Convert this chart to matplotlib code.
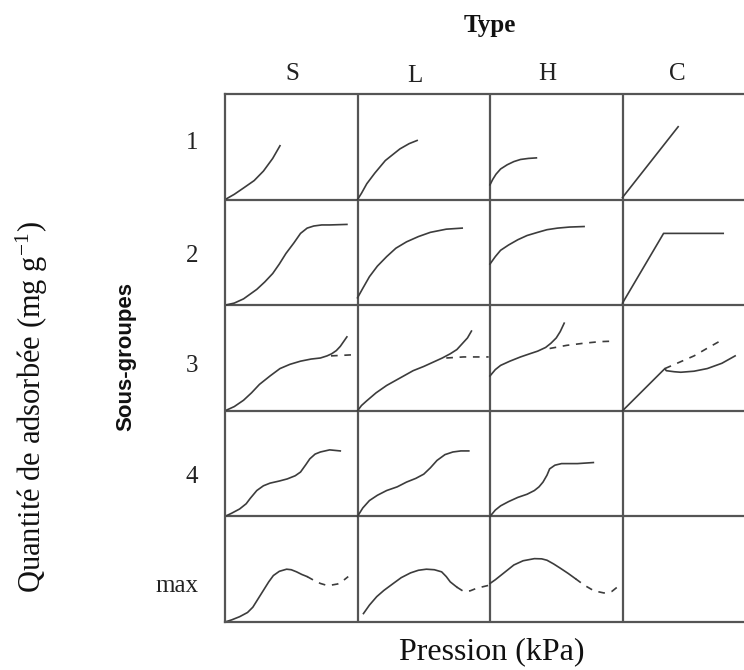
"""Giles isotherm classification grid (types S, L, H, C / sub-groups 1..max)."""

import matplotlib
matplotlib.use("Agg")
import matplotlib.pyplot as plt

plt.rcParams['font.family'] = ['Liberation Serif', 'DejaVu Serif']
plt.rcParams['mathtext.fontset'] = 'stix'

types = ['S', 'L', 'H', 'C']
subgroups = ['1', '2', '3', '4', 'max']

# curves, in cell units (x: 0..1 across, y: 0..1 up)
S1 = ([0.0, 0.07, 0.14, 0.22, 0.29, 0.36, 0.415],
      [0.0, 0.05, 0.11, 0.18, 0.27, 0.39, 0.51])
L1 = ([0.0, 0.03, 0.07, 0.13, 0.21, 0.27, 0.32, 0.39, 0.45],
      [0.0, 0.06, 0.15, 0.25, 0.37, 0.43, 0.48, 0.53, 0.56])
H1 = ([0.0, 0.02, 0.045, 0.08, 0.13, 0.18, 0.23, 0.29, 0.35],
      [0.14, 0.19, 0.24, 0.29, 0.33, 0.36, 0.38, 0.39, 0.395])
C1 = ([0.0, 0.42], [0.02, 0.69])

S2 = ([0.0, 0.07, 0.14, 0.24, 0.30, 0.36, 0.41, 0.46, 0.52, 0.57, 0.62,
       0.67, 0.73, 0.79, 0.92],
      [0.0, 0.02, 0.06, 0.15, 0.22, 0.30, 0.39, 0.49, 0.59, 0.68, 0.73,
       0.75, 0.76, 0.76, 0.765])
L2 = ([0.0, 0.04, 0.09, 0.15, 0.22, 0.29, 0.37, 0.46, 0.55, 0.67, 0.79],
      [0.07, 0.16, 0.27, 0.37, 0.46, 0.54, 0.60, 0.65, 0.69, 0.72, 0.73])
H2 = ([0.0, 0.04, 0.08, 0.14, 0.21, 0.28, 0.36, 0.43, 0.51, 0.60, 0.71],
      [0.39, 0.46, 0.52, 0.57, 0.62, 0.66, 0.69, 0.715, 0.73, 0.74, 0.745])
C2 = ([0.0, 0.31, 0.76], [0.02, 0.68, 0.68])

S3 = ([0.0, 0.07, 0.14, 0.20, 0.26, 0.34, 0.415, 0.49, 0.57, 0.65, 0.72,
       0.77, 0.805, 0.84, 0.87, 0.92],
      [0.0, 0.04, 0.10, 0.17, 0.25, 0.33, 0.40, 0.44, 0.47, 0.49, 0.50,
       0.52, 0.54, 0.57, 0.61, 0.70])
S3_dash = ([0.80, 0.88, 0.96], [0.52, 0.525, 0.53])
L3 = ([0.0, 0.03, 0.07, 0.14, 0.22, 0.32, 0.42, 0.50, 0.57, 0.64, 0.70,
       0.75, 0.79, 0.83, 0.86],
      [0.0, 0.05, 0.095, 0.17, 0.24, 0.31, 0.38, 0.42, 0.46, 0.50, 0.54,
       0.58, 0.635, 0.69, 0.755])
L3_dash = ([0.67, 0.80, 0.90, 0.99], [0.50, 0.51, 0.51, 0.51])
H3 = ([0.0, 0.04, 0.08, 0.15, 0.23, 0.30, 0.36, 0.42, 0.46, 0.50, 0.53,
       0.56],
      [0.33, 0.39, 0.43, 0.47, 0.51, 0.54, 0.565, 0.60, 0.64, 0.69, 0.75,
       0.83])
H3_dash = ([0.45, 0.58, 0.71, 0.83, 0.94], [0.59, 0.62, 0.64, 0.655, 0.66])
C3 = ([0.0, 0.32, 0.33, 0.39, 0.44, 0.54, 0.64, 0.75, 0.85],
      [0.0, 0.40, 0.38, 0.37, 0.365, 0.375, 0.40, 0.45, 0.52])
C3_dash = ([0.32, 0.43, 0.54, 0.65, 0.75], [0.40, 0.46, 0.52, 0.60, 0.67])

S4 = ([0.0, 0.05, 0.11, 0.16, 0.19, 0.24, 0.29, 0.34, 0.41, 0.47, 0.53,
       0.57, 0.61, 0.64, 0.68, 0.72, 0.79, 0.87],
      [0.0, 0.03, 0.07, 0.12, 0.17, 0.245, 0.29, 0.315, 0.335, 0.355,
       0.385, 0.42, 0.49, 0.545, 0.59, 0.61, 0.63, 0.62])
L4 = ([0.0, 0.04, 0.09, 0.15, 0.22, 0.30, 0.37, 0.44, 0.50, 0.55, 0.60,
       0.66, 0.72, 0.78, 0.84],
      [0.0, 0.08, 0.15, 0.20, 0.245, 0.28, 0.325, 0.36, 0.40, 0.46, 0.53,
       0.585, 0.61, 0.62, 0.62])
H4 = ([0.0, 0.04, 0.08, 0.14, 0.21, 0.28, 0.335, 0.37, 0.40, 0.43, 0.45,
       0.49, 0.54, 0.60, 0.66, 0.78],
      [0.0, 0.06, 0.10, 0.14, 0.18, 0.21, 0.245, 0.28, 0.325, 0.39, 0.45,
       0.485, 0.50, 0.50, 0.50, 0.51])

Smax = ([0.0, 0.05, 0.11, 0.17, 0.21, 0.25, 0.29, 0.33, 0.365, 0.41, 0.465,
         0.50, 0.54, 0.58, 0.62],
        [0.0, 0.02, 0.05, 0.09, 0.14, 0.22, 0.30, 0.38, 0.44, 0.48, 0.50,
         0.495, 0.475, 0.45, 0.43])
Smax_dash = ([0.62, 0.67, 0.72, 0.76, 0.805, 0.85, 0.88, 0.93],
             [0.43, 0.395, 0.365, 0.35, 0.35, 0.36, 0.38, 0.43])
Lmax = ([0.045, 0.09, 0.145, 0.20, 0.27, 0.33, 0.40, 0.46, 0.52, 0.58,
         0.635, 0.67, 0.70, 0.75],
        [0.08, 0.16, 0.24, 0.30, 0.365, 0.42, 0.465, 0.49, 0.50, 0.495,
         0.475, 0.43, 0.38, 0.33])
Lmax_dash = ([0.75, 0.80, 0.85, 0.90, 0.95, 1.0],
             [0.33, 0.29, 0.295, 0.32, 0.335, 0.35])
Hmax = ([0.0, 0.04, 0.08, 0.13, 0.18, 0.25, 0.335, 0.39, 0.43, 0.48, 0.53,
         0.59, 0.645],
        [0.365, 0.40, 0.44, 0.49, 0.54, 0.58, 0.60, 0.598, 0.585, 0.55,
         0.51, 0.46, 0.41])
Hmax_dash = ([0.645, 0.71, 0.785, 0.86, 0.92, 0.96],
             [0.41, 0.35, 0.295, 0.275, 0.29, 0.33])

# (column, row, curve, dashed)
cells = [
    (0, 0, S1, False), (1, 0, L1, False), (2, 0, H1, False), (3, 0, C1, False),
    (0, 1, S2, False), (1, 1, L2, False), (2, 1, H2, False), (3, 1, C2, False),
    (0, 2, S3, False), (0, 2, S3_dash, True),
    (1, 2, L3, False), (1, 2, L3_dash, True),
    (2, 2, H3, False), (2, 2, H3_dash, True),
    (3, 2, C3, False), (3, 2, C3_dash, True),
    (0, 3, S4, False), (1, 3, L4, False), (2, 3, H4, False),
    (0, 4, Smax, False), (0, 4, Smax_dash, True),
    (1, 4, Lmax, False), (1, 4, Lmax_dash, True),
    (2, 4, Hmax, False), (2, 4, Hmax_dash, True),
]

W, H = 744, 670
fig = plt.figure(figsize=(W / 100, H / 100), dpi=100)
fig.patch.set_facecolor('white')

# grid axes: left 225px, top 94px, bottom 622px, cell width 132.5px
left, top, bottom, cw = 225, 94, 622, 132.5
ax = fig.add_axes([left / W, (H - bottom) / H, 4 * cw / W, (bottom - top) / H])
ax.set_xlim(0, 4)
ax.set_ylim(0, 5)
ax.set_xticks([])
ax.set_yticks([])
for sp in ax.spines.values():
    sp.set_color('#555555')
    sp.set_linewidth(1.6)

grid_kw = dict(color='#555555', lw=1.6, zorder=1)
for i in range(1, 4):
    ax.axvline(i, **grid_kw)
for j in range(1, 5):
    ax.axhline(j, **grid_kw)

line_col = '#3c3c3c'
for col, row, (xs, ys), dashed in cells:
    xx = [col + x for x in xs]
    yy = [4 - row + y for y in ys]
    if dashed:
        ax.plot(xx, yy, color=line_col, lw=1.2, dashes=(4, 4), zorder=2)
    else:
        ax.plot(xx, yy, color=line_col, lw=1.2, zorder=2)


def fx(px):
    return px / W


def fy(py):
    return 1 - py / H


# column headers (pixel centres / baselines)
head_x = [292, 415, 547, 677]
head_base = [80, 82, 80, 80]
for t, x, b in zip(types, head_x, head_base):
    fig.text(fx(x), fy(b), t, ha='center', va='baseline', fontsize=18,
             color='#222222')

# row labels, right aligned
row_base = [149, 262, 372, 483, 592]
for s, b in zip(subgroups, row_base):
    fig.text(fx(198), fy(b), s, ha='right', va='baseline', fontsize=18,
             color='#222222')

fig.text(fx(490), fy(32), 'Type', ha='center', va='baseline', fontsize=18,
         fontweight='bold', color='#111111')
fig.text(fx(492), fy(659), 'Pression (kPa)', ha='center', va='baseline',
         fontsize=23, color='#111111')
fig.text(fx(126), fy(356), 'Sous-groupes', ha='center', va='center',
         rotation=90, fontsize=16, fontweight='bold', color='#111111',
         family=['Liberation Sans Narrow', 'Liberation Sans'])
fig.text(fx(32), fy(407), r'Quantité de adsorbée (mg g$^{\mathregular{-1}}$)',
         ha='center', va='center', rotation=90, fontsize=22, color='#111111')

fig.savefig('out.png', dpi=100, facecolor='white')
